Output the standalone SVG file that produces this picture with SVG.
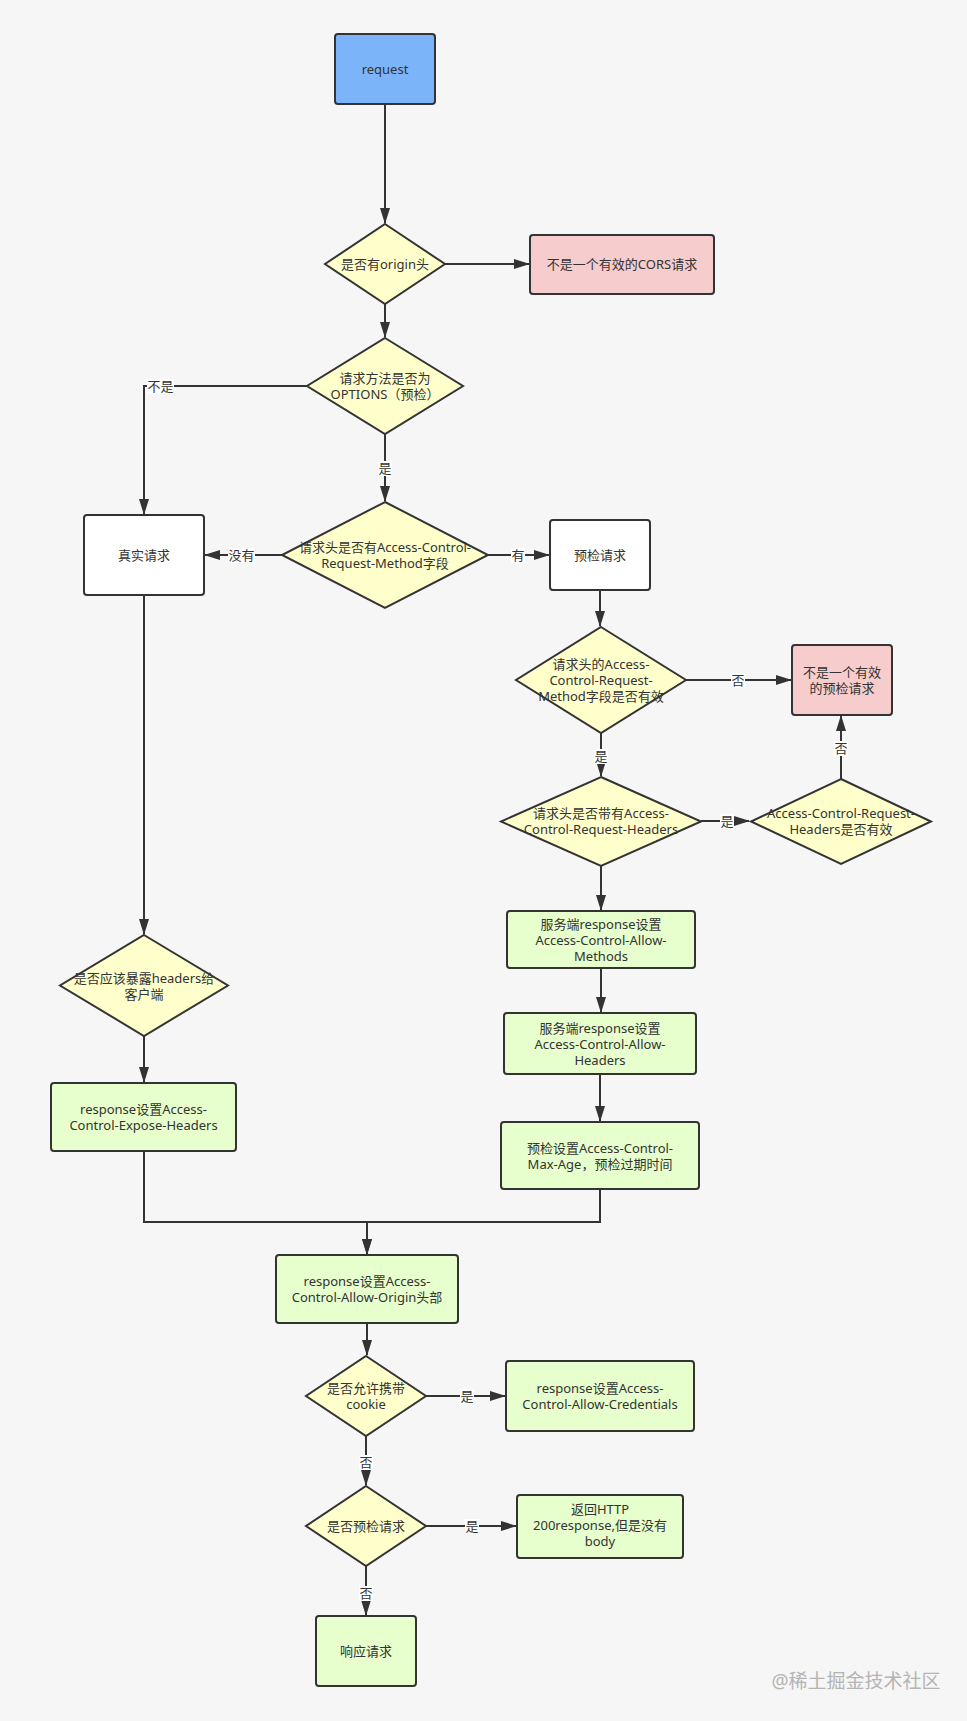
<svg xmlns="http://www.w3.org/2000/svg" width="967" height="1721" viewBox="0 0 967 1721">
<style>
text{font-family:"Noto Sans","Noto Sans CJK SC",sans-serif;font-size:13px;fill:#333;text-anchor:middle}
.n{stroke:#333;stroke-width:2}
.blue{fill:#7cb4fa}.red{fill:#f6cdcc}.yel{fill:#ffffcc}.grn{fill:#e6ffcc}.wht{fill:#fff}
.c{fill:none;stroke:#333;stroke-width:2}
.lb{fill:#fff}
.wm{font-size:19px;fill:#b4b4b4}
</style>
<defs>
<marker id="a" viewBox="0 0 16 10" refX="15" refY="5" markerWidth="16" markerHeight="10" markerUnits="userSpaceOnUse" orient="auto">
<path d="M0,0 L16,5 L0,10 z" fill="#333"/>
</marker>
</defs>
<rect x="0" y="0" width="967" height="1721" fill="#f6f6f6"/>

<g id="connectors">
<path class="c" d="M385,104 V223" marker-end="url(#a)"/>
<path class="c" d="M445,264 H529" marker-end="url(#a)"/>
<path class="c" d="M385,304 V337" marker-end="url(#a)"/>
<path class="c" d="M307,386 H144 V514" marker-end="url(#a)"/>
<path class="c" d="M385,434 V501" marker-end="url(#a)"/>
<path class="c" d="M282,555 H205" marker-end="url(#a)"/>
<path class="c" d="M488,555 H549" marker-end="url(#a)"/>
<path class="c" d="M600,590 V626" marker-end="url(#a)"/>
<path class="c" d="M686,680 H791" marker-end="url(#a)"/>
<path class="c" d="M601,733 V776" marker-end="url(#a)"/>
<path class="c" d="M701,821 H749" marker-end="url(#a)"/>
<path class="c" d="M841,779 V716" marker-end="url(#a)"/>
<path class="c" d="M601,866 V910" marker-end="url(#a)"/>
<path class="c" d="M601,968 V1012" marker-end="url(#a)"/>
<path class="c" d="M600,1074 V1121" marker-end="url(#a)"/>
<path class="c" d="M144,595 V934" marker-end="url(#a)"/>
<path class="c" d="M144,1036 V1082" marker-end="url(#a)"/>
<path class="c" d="M144,1151 V1222 H367 V1254" marker-end="url(#a)"/>
<path class="c" d="M600,1189 V1222 H367 V1254" marker-end="url(#a)"/>
<path class="c" d="M367,1323 V1355" marker-end="url(#a)"/>
<path class="c" d="M426,1396 H505" marker-end="url(#a)"/>
<path class="c" d="M366,1436 V1485" marker-end="url(#a)"/>
<path class="c" d="M426,1526 H516" marker-end="url(#a)"/>
<path class="c" d="M366,1566 V1615" marker-end="url(#a)"/>

<rect class="lb" x="147" y="379" width="27" height="15"/><text x="160.5" y="391">不是</text>
<rect class="lb" x="378" y="461" width="14" height="15"/><text x="385" y="473">是</text>
<rect class="lb" x="228" y="548" width="27" height="15"/><text x="241.5" y="560">没有</text>
<rect class="lb" x="511" y="548" width="14" height="15"/><text x="518" y="560">有</text>
<rect class="lb" x="731" y="673" width="14" height="15"/><text x="738" y="685">否</text>
<rect class="lb" x="594" y="749" width="14" height="15"/><text x="601" y="761">是</text>
<rect class="lb" x="720" y="814" width="14" height="15"/><text x="727" y="826">是</text>
<rect class="lb" x="834" y="741" width="14" height="15"/><text x="841" y="753">否</text>
<rect class="lb" x="460" y="1389" width="14" height="15"/><text x="467" y="1401">是</text>
<rect class="lb" x="359" y="1455" width="14" height="15"/><text x="366" y="1467">否</text>
<rect class="lb" x="465" y="1519" width="14" height="15"/><text x="472" y="1531">是</text>
<rect class="lb" x="359" y="1586" width="14" height="15"/><text x="366" y="1598">否</text>
</g>

<g id="request"><rect class="n blue" x="335" y="34" width="100" height="70" rx="3"/><text x="385" y="73.5">request</text></g>
<g id="has-origin"><polygon class="n yel" points="385,224 445,264 385,304 325,264"/><text x="385" y="268.5">是否有origin头</text></g>
<g id="invalid-cors"><rect class="n red" x="530" y="235" width="184" height="59" rx="3"/><text x="622" y="268.5">不是一个有效的CORS请求</text></g>
<g id="is-options"><polygon class="n yel" points="385,338 463,386 385,434 307,386"/><text x="385" y="383">请求方法是否为</text><text x="385" y="399">OPTIONS（预检）</text></g>
<g id="real-request"><rect class="n wht" x="84" y="515" width="120" height="80" rx="3"/><text x="144" y="559.5">真实请求</text></g>
<g id="has-acrm"><polygon class="n yel" points="385,502 488,555 385,608 282,555"/><text x="385" y="552">请求头是否有Access-Control-</text><text x="385" y="568">Request-Method字段</text></g>
<g id="preflight"><rect class="n wht" x="550" y="520" width="100" height="70" rx="3"/><text x="600" y="559.5">预检请求</text></g>
<g id="acrm-valid"><polygon class="n yel" points="601,627 686,680 601,733 516,680"/><text x="601" y="669">请求头的Access-</text><text x="601" y="685">Control-Request-</text><text x="601" y="701">Method字段是否有效</text></g>
<g id="invalid-preflight"><rect class="n red" x="792" y="645" width="100" height="70" rx="3"/><text x="842" y="677">不是一个有效</text><text x="842" y="693">的预检请求</text></g>
<g id="has-acrh"><polygon class="n yel" points="601,777 701,821.5 601,866 501,821.5"/><text x="601" y="818">请求头是否带有Access-</text><text x="601" y="834">Control-Request-Headers</text></g>
<g id="acrh-valid"><polygon class="n yel" points="841,779 931,821.5 841,864 751,821.5"/><text x="841" y="818">Access-Control-Request-</text><text x="841" y="834">Headers是否有效</text></g>
<g id="allow-methods"><rect class="n grn" x="507" y="911" width="188" height="57" rx="3"/><text x="601" y="929">服务端response设置</text><text x="601" y="945">Access-Control-Allow-</text><text x="601" y="961">Methods</text></g>
<g id="allow-headers"><rect class="n grn" x="504" y="1013" width="192" height="61" rx="3"/><text x="600" y="1033">服务端response设置</text><text x="600" y="1049">Access-Control-Allow-</text><text x="600" y="1065">Headers</text></g>
<g id="max-age"><rect class="n grn" x="501" y="1122" width="198" height="67" rx="3"/><text x="600" y="1153">预检设置Access-Control-</text><text x="600" y="1169">Max-Age，预检过期时间</text></g>
<g id="expose-q"><polygon class="n yel" points="144,935 228,985.5 144,1036 60,985.5"/><text x="144" y="983">是否应该暴露headers给</text><text x="144" y="999">客户端</text></g>
<g id="expose-headers"><rect class="n grn" x="51" y="1083" width="185" height="68" rx="3"/><text x="143.5" y="1114">response设置Access-</text><text x="143.5" y="1130">Control-Expose-Headers</text></g>
<g id="allow-origin"><rect class="n grn" x="276" y="1255" width="182" height="68" rx="3"/><text x="367" y="1286">response设置Access-</text><text x="367" y="1302">Control-Allow-Origin头部</text></g>
<g id="cookie-q"><polygon class="n yel" points="366,1356 426,1396 366,1436 306,1396"/><text x="366" y="1393">是否允许携带</text><text x="366" y="1409">cookie</text></g>
<g id="allow-credentials"><rect class="n grn" x="506" y="1361" width="188" height="70" rx="3"/><text x="600" y="1393">response设置Access-</text><text x="600" y="1409">Control-Allow-Credentials</text></g>
<g id="preflight-q"><polygon class="n yel" points="366,1486 426,1526 366,1566 306,1526"/><text x="366" y="1530.5">是否预检请求</text></g>
<g id="return-200"><rect class="n grn" x="517" y="1495" width="166" height="63" rx="3"/><text x="600" y="1514">返回HTTP</text><text x="600" y="1530">200response,但是没有</text><text x="600" y="1546">body</text></g>
<g id="respond"><rect class="n grn" x="316" y="1616" width="100" height="70" rx="3"/><text x="366" y="1655.5">响应请求</text></g>

<text class="wm" x="856" y="1688">@稀土掘金技术社区</text>
</svg>
